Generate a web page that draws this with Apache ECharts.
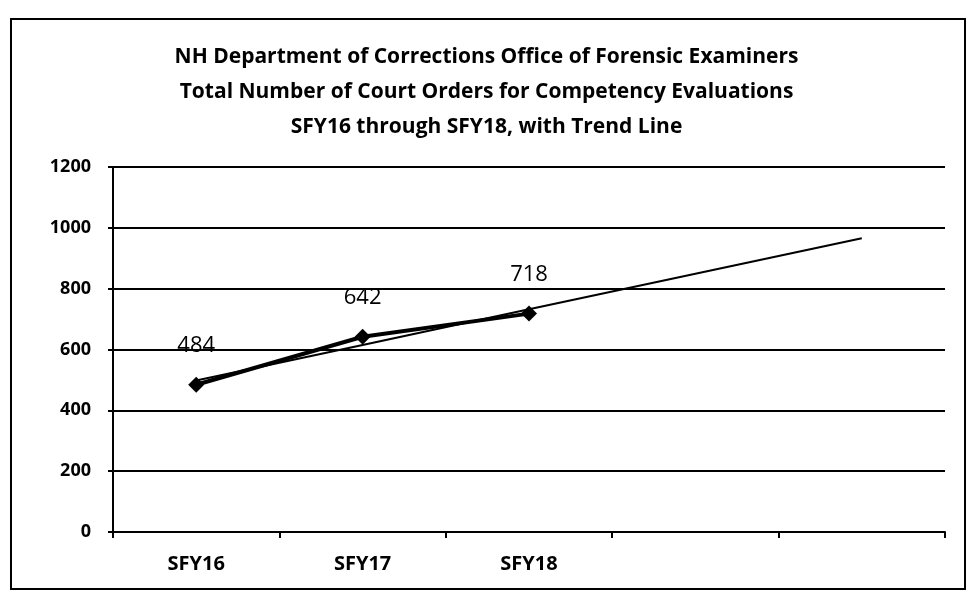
<!DOCTYPE html>
<html>
<head>
<meta charset="utf-8">
<script src="https://cdn.jsdelivr.net/npm/echarts@6/dist/echarts.min.js"></script>
<style>
html,body{margin:0;padding:0;background:#fff;}
#chart{width:973px;height:608px;}
</style>
</head>
<body>
<div id="chart"></div>
<script>
// categories (last two are empty forecast slots for the trend line)
var categories = ['SFY16', 'SFY17', 'SFY18', '', ''];
var courtOrders = [484, 642, 718];
// linear trend line
var trendValues = [498, 615, 732, 849, 966];
var yTicks = [0, 200, 400, 600, 800, 1000, 1200];

var font = '"Open Sans", sans-serif';
var chart = echarts.init(document.getElementById('chart'));
chart.setOption({
  animation: false,
  backgroundColor: '#fff',
  title: {
    text: 'NH Department of Corrections Office of Forensic Examiners\nTotal Number of Court Orders for Competency Evaluations\nSFY16 through SFY18, with Trend Line',
    left: 'center',
    top: 35,
    textStyle: {
      fontFamily: font,
      fontWeight: 'bold',
      fontSize: 21,
      lineHeight: 35,
      color: '#000'
    }
  },
  graphic: [{
    type: 'rect',
    shape: {x: 11, y: 19, width: 954, height: 570},
    style: {fill: 'none', stroke: '#000', lineWidth: 2}
  }],
  grid: {left: 113, right: 28, top: 167, bottom: 76},
  xAxis: {
    type: 'category',
    data: categories,
    boundaryGap: true,
    axisLine: {lineStyle: {color: '#000', width: 2}},
    axisTick: {show: true, length: 6, inside: false, lineStyle: {color: '#000', width: 2}},
    axisLabel: {
      color: '#000', fontFamily: font, fontWeight: 'bold', fontSize: 20, margin: 22
    },
    splitLine: {show: false}
  },
  yAxis: {
    type: 'value',
    min: yTicks[0],
    max: yTicks[yTicks.length - 1],
    interval: 200,
    axisLine: {show: true, lineStyle: {color: '#000', width: 2}},
    axisTick: {show: true, length: 5, lineStyle: {color: '#000', width: 2}},
    axisLabel: {
      color: '#000', fontFamily: font, fontWeight: 'bold', fontSize: 18, margin: 22,
      formatter: function (v) { return String(v); }
    },
    splitLine: {lineStyle: {color: '#000', width: 2}}
  },
  series: [
    {
      name: 'Trend',
      type: 'line',
      data: trendValues,
      symbol: 'none',
      lineStyle: {color: '#000', width: 2},
      z: 2
    },
    {
      name: 'Court Orders',
      type: 'line',
      data: courtOrders,
      symbol: 'diamond',
      symbolSize: 16,
      itemStyle: {color: '#000'},
      lineStyle: {color: '#000', width: 4},
      label: {
        show: true,
        position: 'top',
        distance: 20,
        color: '#000',
        fontFamily: font,
        fontSize: 22
      },
      z: 3
    }
  ]
});
</script>
</body>
</html>
